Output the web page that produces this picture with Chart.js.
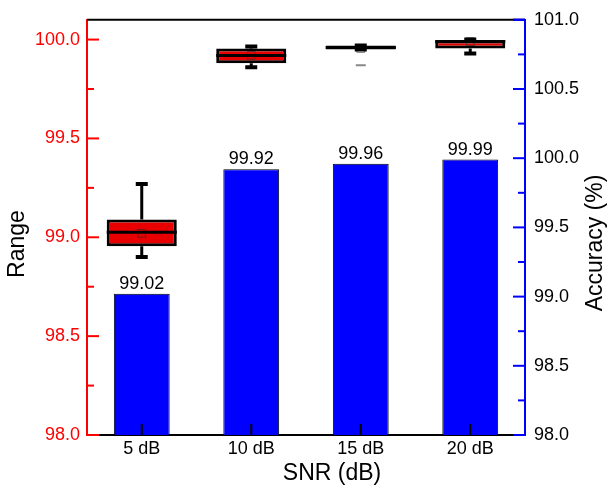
<!DOCTYPE html>
<html>
<head>
<meta charset="utf-8">
<script src="https://cdn.jsdelivr.net/npm/chart.js@4"></script>
<style>
  body { margin: 0; background: #fff; }
  #wrap { width: 607px; height: 488px; }
</style>
</head>
<body>
<div id="wrap"><canvas id="grafico" width="607" height="488"></canvas></div>
<script>
// datos
const categorias = ['5 dB', '10 dB', '15 dB', '20 dB'];
const precision = [99.02, 99.92, 99.96, 99.99];     // eje derecho (%)
const cajaQ1 = [98.955, 99.88, 99.95, 99.955];       // eje izquierdo
const cajaQ3 = [99.09, 99.955, 99.97, 99.995];
const medianas = [99.025, 99.92, 99.96, 99.99];
const medias = [99.02, 99.92, 99.955, 99.99];
const bigoteMin = [98.90, 99.86, 99.95, 99.93];
const bigoteMax = [99.27, 99.965, 99.97, 100.0];
const atipicos = [null, null, 99.87, null];
const marcasIzq = [98, 98.25, 98.5, 98.75, 99, 99.25, 99.5, 99.75, 100];
const marcasDer = [98, 98.25, 98.5, 98.75, 99, 99.25, 99.5, 99.75, 100, 100.25, 100.5, 100.75, 101];

const fuente = "Arial, 'Liberation Sans', sans-serif";
const esMayor = v => Math.abs(v * 2 - Math.round(v * 2)) < 1e-6;

// marcas hacia dentro, bigotes, medianas, etiquetas y titulos
const extras = {
  id: 'extras',
  afterDatasetsDraw(chart) {
    const c = chart.ctx;
    const yl = chart.scales.yL;
    const cajas = chart.getDatasetMeta(1).data;
    c.save();
    c.strokeStyle = '#000';
    cajas.forEach((b, i) => {
      const cx = b.x;
      const lo = yl.getPixelForValue(bigoteMin[i]), hi = yl.getPixelForValue(bigoteMax[i]);
      const q1 = yl.getPixelForValue(cajaQ1[i]), q3 = yl.getPixelForValue(cajaQ3[i]);
      c.lineWidth = 3;
      c.beginPath();
      c.moveTo(cx, lo); c.lineTo(cx, q1);
      c.moveTo(cx, q3); c.lineTo(cx, hi);
      c.stroke();
      c.lineWidth = 4;
      c.beginPath();
      c.moveTo(cx - 6, lo); c.lineTo(cx + 6, lo);
      c.moveTo(cx - 6, hi); c.lineTo(cx + 6, hi);
      c.stroke();
      c.lineWidth = 3;
      const m = yl.getPixelForValue(medianas[i]);
      c.beginPath();
      c.moveTo(b.x - b.width / 2, m); c.lineTo(b.x + b.width / 2, m);
      c.stroke();
    });
    c.restore();
  },
  afterDraw(chart) {
    const c = chart.ctx, a = chart.chartArea;
    const yl = chart.scales.yL, yr = chart.scales.yR, x = chart.scales.x;
    c.save();
    // borde superior
    c.strokeStyle = '#000';
    c.lineWidth = 2;
    c.beginPath();
    c.moveTo(a.left, a.top); c.lineTo(a.right, a.top);
    c.stroke();
    // marcas eje izquierdo
    c.strokeStyle = '#ff0000';
    marcasIzq.forEach(v => {
      const y = yl.getPixelForValue(v);
      c.beginPath();
      c.moveTo(a.left, y); c.lineTo(a.left + (esMayor(v) ? 12 : 7), y);
      c.stroke();
    });
    // marcas eje derecho
    c.strokeStyle = '#0000ff';
    marcasDer.forEach(v => {
      const y = yr.getPixelForValue(v);
      c.beginPath();
      c.moveTo(a.right, y); c.lineTo(a.right - (esMayor(v) ? 12 : 7), y);
      c.stroke();
    });
    // marcas eje x
    c.strokeStyle = '#000';
    categorias.forEach((cat, i) => {
      const px = x.getPixelForValue(i);
      c.beginPath();
      c.moveTo(px, a.bottom); c.lineTo(px, a.bottom - 11);
      c.stroke();
    });
    // esquinas de color
    c.strokeStyle = '#ff0000';
    c.beginPath();
    c.moveTo(a.left, a.bottom); c.lineTo(a.left + 12, a.bottom);
    c.stroke();
    c.strokeStyle = '#0000ff';
    c.beginPath();
    c.moveTo(a.right, a.bottom); c.lineTo(a.right - 12, a.bottom);
    c.moveTo(a.right, a.top); c.lineTo(a.right - 12, a.top);
    c.stroke();
    // etiquetas de barras
    c.fillStyle = '#000';
    c.font = '18px ' + fuente;
    c.textAlign = 'center';
    c.textBaseline = 'bottom';
    chart.getDatasetMeta(0).data.forEach((b, i) => {
      c.fillText(precision[i].toFixed(2), b.x, b.y - 1);
    });
    // titulos
    c.font = '23px ' + fuente;
    c.textBaseline = 'middle';
    c.fillText('SNR (dB)', 332, 474);
    c.translate(18, 244);
    c.rotate(-Math.PI / 2);
    c.fillText('Range', 0, 0);
    c.rotate(Math.PI / 2);
    c.translate(-18, -244);
    c.translate(596, 243);
    c.rotate(-Math.PI / 2);
    c.fillText('Accuracy (%)', 0, 0);
    c.restore();
  }
};

const ctx = document.getElementById('grafico').getContext('2d');
const miGrafico = new Chart(ctx, {
  type: 'bar',
  data: {
    labels: categorias,
    datasets: [{
      label: 'Accuracy',
      data: precision,
      yAxisID: 'yR',
      backgroundColor: '#0000ff',
      borderColor: '#000',
      borderWidth: 1,
      barPercentage: 0.51,
      categoryPercentage: 1,
      grouped: false,
      order: 3
    }, {
      label: 'Range',
      data: cajaQ1.map((q, i) => [q, cajaQ3[i]]),
      yAxisID: 'yL',
      backgroundColor: '#e80000',
      borderColor: '#000',
      borderWidth: 3,
      borderSkipped: false,
      barPercentage: 0.64,
      categoryPercentage: 1,
      grouped: false,
      order: 2
    }, {
      type: 'line',
      label: 'Media',
      data: medias,
      yAxisID: 'yL',
      showLine: false,
      pointStyle: 'rect',
      pointRadius: 5.5,
      pointBorderWidth: 1,
      pointBackgroundColor: 'rgba(0,0,0,0)',
      pointBorderColor: 'rgba(40,40,40,0.6)',
      order: 1
    }, {
      type: 'line',
      label: 'Atipicos',
      data: atipicos,
      yAxisID: 'yL',
      showLine: false,
      pointStyle: 'line',
      pointRadius: 5,
      pointBorderWidth: 2,
      pointBorderColor: '#888',
      order: 1
    }]
  },
  options: {
    responsive: false,
    animation: false,
    layout: { padding: { top: 17, left: 0, right: 0, bottom: 0 } },
    plugins: { legend: { display: false }, tooltip: { enabled: false } },
    scales: {
      x: {
        grid: { drawOnChartArea: false, drawTicks: false },
        border: { color: '#000', width: 2 },
        ticks: { color: '#000', font: { family: fuente, size: 18 }, padding: 3 },
        afterFit: s => { s.height = 53; }
      },
      yL: {
        position: 'left',
        min: 98, max: 100.1,
        grid: { drawOnChartArea: false, drawTicks: false },
        border: { color: '#ff0000', width: 2 },
        ticks: {
          autoSkip: false, color: '#ff0000', padding: 7,
          font: { family: fuente, size: 18 },
          callback: v => esMayor(v) ? v.toFixed(1) : ''
        },
        afterBuildTicks: s => { s.ticks = marcasIzq.map(v => ({ value: v })); },
        afterFit: s => { s.width = 87; }
      },
      yR: {
        position: 'right',
        min: 98, max: 101,
        grid: { drawOnChartArea: false, drawTicks: false },
        border: { color: '#0000ff', width: 2 },
        ticks: {
          autoSkip: false, color: '#000', padding: 9,
          font: { family: fuente, size: 18 },
          callback: v => esMayor(v) ? v.toFixed(1) : ''
        },
        afterBuildTicks: s => { s.ticks = marcasDer.map(v => ({ value: v })); },
        afterFit: s => { s.width = 82; }
      }
    }
  },
  plugins: [extras]
});
</script>
</body>
</html>
